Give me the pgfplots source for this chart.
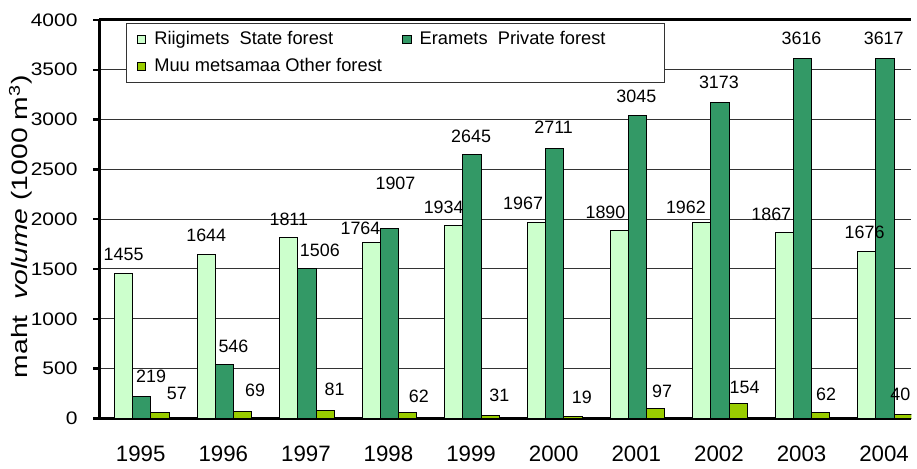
\documentclass[border=0pt]{standalone}
\usepackage{fontspec}
\setmainfont{Liberation Sans}
\newfontfamily\ytickfont{Liberation Sans}[FakeStretch=1.16]
\newfontfamily\ylabfont{Liberation Sans}[FakeStretch=1.27]
\usepackage{pgfplots}
\usepackage{pgfplotstable}
\pgfplotsset{compat=1.18}

\definecolor{statec}{HTML}{CCFFCC}
\definecolor{privc}{HTML}{339966}
\definecolor{otherc}{HTML}{99CC00}

% x y  label shift (pt) from bar top
\pgfplotstableread{
x y dx dy
0 1455 0 9.5
1 1644 0 9.5
2 1811 0 9.5
3 1764 -5.5 7
4 1934 -5.2 9.5
5 1967 -6.8 9.5
6 1890 -6.9 9
7 1962 -8 8
8 1867 -6.6 9
9 1676 -1.2 9.5
}\statetab
\pgfplotstableread{
x y dx dy
0 219 4.7 10
1 546 4.6 9
2 1506 6.5 9
3 1907 3 22.5
4 2645 -0.5 9.5
5 2711 -0.5 10.5
6 3045 -0.5 9.5
7 3173 -0.5 10
8 3616 -0.5 10
9 3617 -0.7 10
}\privtab
\pgfplotstableread{
x y dx dy
0 57 8.5 9.5
1 69 6.3 10.5
2 81 4.7 10.5
3 62 5.6 8
4 31 4.5 10
5 19 4.5 9.5
6 97 3.3 9
7 154 3.2 8
8 62 2.7 9
9 40 -1.5 10
}\othertab

\pgfplotsset{
  lbl/.style={
    nodes near coords,
    visualization depends on={\thisrow{dx} \as \lx},
    visualization depends on={\thisrow{dy} \as \ly},
    every node near coord/.append style={anchor=center, xshift=\lx pt, yshift=\ly pt, black,
        font=\fontsize{9}{11}\selectfont},
  }
}

\begin{document}
\begin{tikzpicture}
\begin{axis}[
    scale only axis,
    width=408.5pt, height=200.5pt,
    /pgf/number format/assume math mode=true,
    /pgf/number format/1000 sep={},
    ybar, bar width=9.2pt,
    xmin=-0.5, xmax=9.331,
    ymin=0, ymax=4000,
    axis x line*=bottom, axis y line*=left,
    ytick={0,500,...,4000},
    xtick={0,...,9},
    xticklabels={1995,1996,1997,1998,1999,2000,2001,2002,2003,2004},
    major x tick style={draw=none},
    extra x ticks={-0.5,0.5,...,8.5},
    extra x tick labels={},
    extra x tick style={grid=none, tick style={draw=black, line width=1.5pt}, major tick length=3.5pt},
    extra y ticks={4000},
    extra y tick labels={},
    extra y tick style={major grid style={black, line width=1.5pt}, tick style={draw=none}},
    tick align=outside,
    major tick length=3pt,
    ytick style={line width=1.2pt, black},
    ymajorgrids,
    major grid style={black!80, line width=0.5pt},
    axis line style={line width=1.5pt},
    xticklabel style={font=\fontsize{11.2}{13}\selectfont, yshift=-7.5pt},
    yticklabel style={font=\fontsize{9.1}{11}\ytickfont, anchor=east, xshift=-4.5pt},
    ylabel={maht\ \ \textit{volume} (1000 m\textsuperscript{3})},
    ylabel style={font=\fontsize{11.2}{13}\ylabfont, at={(axis description cs:-0.097,0.481)}, anchor=center, rotate=0},
    legend columns=2,
    legend cell align=left,
    legend style={at={(axis description cs:0.033,0.9925)}, anchor=north west,
        draw=black!80, line width=0.5pt, fill=white, inner xsep=5pt, inner ysep=2pt,
        font=\fontsize{9.2}{11}\selectfont, row sep=1.5pt,
        /tikz/every even column/.append style={column sep=8pt},
        /tikz/every odd column/.append style={column sep=2pt}},
    legend image code/.code={\draw[#1, draw=black, line width=0.5pt] (0pt,-2.2pt) rectangle (4.4pt,2.2pt);},
]
\addplot[fill=statec, draw=black, line width=0.5pt, bar shift=-8.6pt, lbl] table[x=x, y=y] {\statetab};
\addlegendentry{Riigimets\ \ State forest}
\addplot[fill=privc, draw=black, line width=0.5pt, bar shift=0.5pt, lbl] table[x=x, y=y] {\privtab};
\addlegendentry{\makebox[116pt][l]{Eramets\ \ Private forest}}
\addplot[fill=otherc, draw=black, line width=0.5pt, bar shift=9.7pt, lbl] table[x=x, y=y] {\othertab};
\addlegendentry{Muu metsamaa Other forest}
\end{axis}
\path ([yshift=10pt]current axis.north) ([yshift=-21.5pt]current axis.south)
      ([xshift=-50pt]current axis.west);
\end{tikzpicture}
\end{document}
